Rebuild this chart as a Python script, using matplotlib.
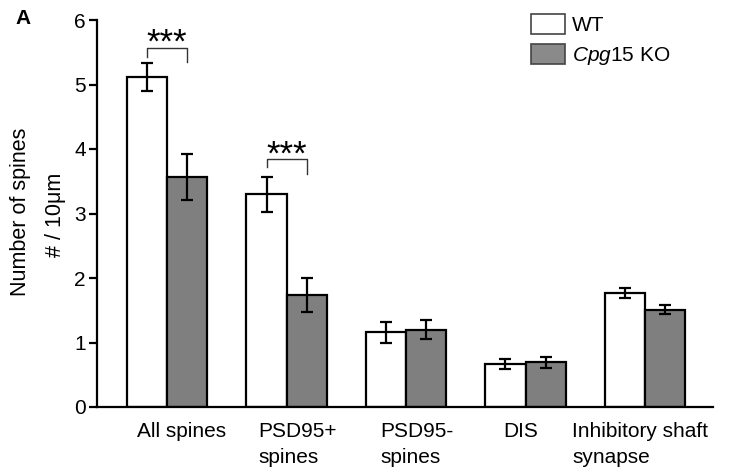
import matplotlib
matplotlib.use("Agg")
import matplotlib.pyplot as plt
from matplotlib.patches import Patch
import matplotlib.transforms as mtransforms
import numpy as np

plt.rcParams['font.family'] = ['Liberation Sans', 'DejaVu Sans']
plt.rcParams['mathtext.fontset'] = 'custom'
plt.rcParams['mathtext.it'] = 'Liberation Sans:italic'
plt.rcParams['mathtext.rm'] = 'Liberation Sans'

categories = ["All spines", "PSD95+\nspines", "PSD95-\nspines", "DIS", "Inhibitory shaft\nsynapse"]
wt_values = [5.12, 3.30, 1.16, 0.67, 1.77]
wt_errors = [0.22, 0.27, 0.16, 0.08, 0.08]
ko_values = [3.57, 1.74, 1.20, 0.69, 1.51]
ko_errors = [0.36, 0.26, 0.15, 0.08, 0.07]
series_names = ["WT", r"$\it{Cpg15}$ KO"]
yticks = [0, 1, 2, 3, 4, 5, 6]
# significance brackets
sig_groups = [0, 1]
sig_top = [5.57, 3.84]
sig_left_end = [5.43, 3.72]
sig_right_end = [5.35, 3.61]
sig_text = ["***", "***"]

fig = plt.figure(figsize=(7.33, 4.76), dpi=100)
ax = fig.add_axes([97/733, 1-407/476, (713-97)/733, (407-20)/476])

x = np.arange(len(categories))
w = 0.335
gray = '#7f7f7f'
ax.bar(x - w/2, wt_values, w, align='center', color='white', edgecolor='black', linewidth=1.6, zorder=2)
ax.bar(x + w/2, ko_values, w, align='center', color=gray, edgecolor='black', linewidth=1.6, zorder=2)
ax.errorbar(x - w/2, wt_values, yerr=wt_errors, fmt='none', ecolor='black', elinewidth=1.6, capsize=4, capthick=1.6, zorder=3)
ax.errorbar(x + w/2, ko_values, yerr=ko_errors, fmt='none', ecolor='black', elinewidth=1.6, capsize=4, capthick=1.6, zorder=3)

for g, t, le, re, s in zip(sig_groups, sig_top, sig_left_end, sig_right_end, sig_text):
    xl, xr = g - w/2, g + w/2
    ax.plot([xl, xl, xr, xr], [le, t, t, re], color='#333333', lw=1.0, zorder=3)
    ax.annotate(s, xy=(g, t), xytext=(0, -3.8), textcoords='offset points',
                ha='center', va='baseline', fontsize=25)

ax.set_xlim(-0.586, 4.569)
ax.set_ylim(0, 6)
ax.set_yticks(yticks)
ax.set_yticklabels([str(v) for v in yticks], fontsize=15)
ax.tick_params(axis='y', direction='out', length=6, width=1.6, pad=2)
ax.set_xticks([])
for side in ['top', 'right']:
    ax.spines[side].set_visible(False)
ax.spines['left'].set_linewidth(1.6)
ax.spines['bottom'].set_linewidth(1.6)

# category labels, left-aligned lines
label_offsets_px = [-30, -28, -26, -22, -73]
for xi, lab, off in zip(x, categories, label_offsets_px):
    tr = ax.get_xaxis_transform() + mtransforms.ScaledTranslation(off/100, -0.15, fig.dpi_scale_trans)
    ax.text(xi, 0, lab, transform=tr, ha='left', va='top', fontsize=15, linespacing=1.45)

fig.text(21/733, 1-212/476, "Number of spines", rotation=90, ha='center', va='center', fontsize=15.5)
fig.text(55/733, 1-215/476, "# / 10\u03bcm", rotation=90, ha='center', va='center', fontsize=15.5)
fig.text(15/733, 1-19/476, "A", ha='left', va='center', fontsize=15, fontweight='bold')

handles = [Patch(facecolor='white', edgecolor='#444444', linewidth=1.2),
           Patch(facecolor='#8a8a8a', edgecolor='#444444', linewidth=1.2)]
leg = ax.legend(handles, series_names, loc='upper left', bbox_to_anchor=(531/733, 1-14/476),
                bbox_transform=fig.transFigure, frameon=False, fontsize=15,
                handlelength=1.63, handleheight=1.1, handletextpad=0.35, labelspacing=0.43,
                borderpad=0, borderaxespad=0)

fig.savefig("out.png", dpi=100)
